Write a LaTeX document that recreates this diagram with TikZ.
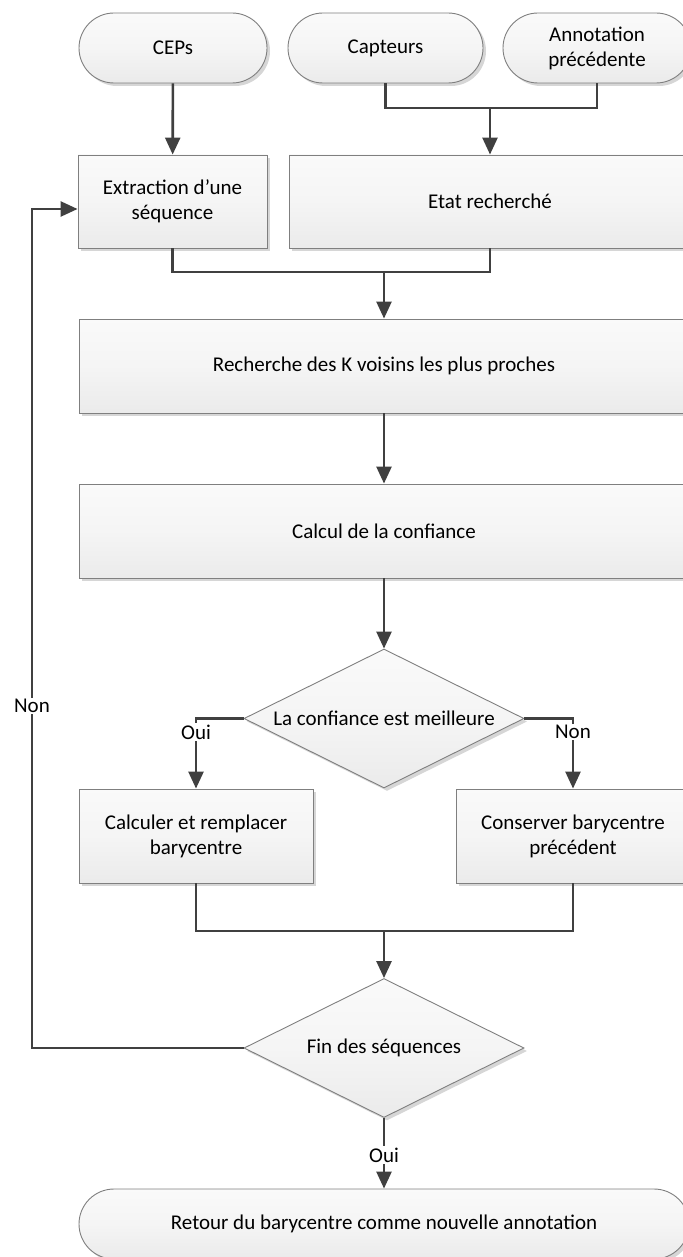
\documentclass[tikz,border=0pt]{standalone}
\usepackage{fontspec}
\setmainfont{Carlito}
\usetikzlibrary{shapes.geometric,arrows.meta,shadows}
\definecolor{edgegray}{HTML}{7F7F7F}
\definecolor{wiregray}{HTML}{404040}
\begin{document}
\begin{tikzpicture}[x=1pt,y=-1pt,
  font=\fontsize{21}{25}\selectfont,
  base/.style={draw=edgegray, line width=0.9pt,
    top color=black!2, bottom color=black!8, middle color=black!4,
    drop shadow={shadow xshift=3pt,shadow yshift=-3pt,fill=black!16,opacity=1},
    align=center, inner sep=0pt},
  proc/.style={base, rectangle, minimum height=93pt},
  term/.style={base, rectangle, rounded corners=35pt, minimum height=70pt},
  cond/.style={base, diamond, aspect=2, minimum width=280pt, minimum height=139pt},
  wire/.style={draw=wiregray, line width=2.6pt},
  arr/.style={wire, -{Triangle[length=17pt,width=15pt]}},
  lbl/.style={fill=white, inner sep=1.5pt}
]
\useasboundingbox (0,0) rectangle (682,1257);

% inputs
\node[term, minimum width=188pt] (ceps)  at (173,48)   {CEPs};
\node[term, minimum width=195pt] (capt)  at (385.5,48) {Capteurs};
\node[term, minimum width=188pt] (annot) at (597,48)   {Annotation\\précédente};

% preparation
\node[proc, minimum width=189pt] (extr) at (172.5,201.5) {Extraction d’une\\séquence};
\node[proc, minimum width=402pt] (etat) at (490,201.5)   {Etat recherché};

% main chain
\node[proc, minimum width=610pt, minimum height=94pt] (rech) at (384,366) {Recherche des K voisins les plus proches};
\node[proc, minimum width=610pt, minimum height=94pt] (calc) at (384,531) {Calcul de la confiance};
\node[cond] (c1) at (384,718.5) {La confiance est meilleure};

\node[proc, minimum width=234pt, minimum height=94pt] (calcr) at (196,836) {Calculer et remplacer\\barycentre};
\node[proc, minimum width=234pt, minimum height=94pt] (cons)  at (573,836) {Conserver barycentre\\précédent};

\node[cond] (c2) at (384,1048) {Fin des séquences};
\node[term, minimum width=610pt] (ret) at (384,1224) {Retour du barycentre comme nouvelle annotation};

% junction points
\coordinate (j1) at (490,108);
\coordinate (j2) at (384,272);
\coordinate (j3) at (384,931);
\coordinate (lp) at (32,209);

% connectors
\draw[arr] (ceps) -- (extr);
\draw[wire] (capt.south) |- (j1) -| (annot.south);
\draw[arr] (j1) -- (etat.north);
\draw[wire] (extr.south) |- (j2) -| (etat.south);
\draw[arr] (j2) -- (rech.north);
\draw[arr] (rech) -- (calc);
\draw[arr] (calc) -- (c1);
\draw[arr] (c1.west) -| (calcr.north);
\draw[arr] (c1.east) -| (cons.north);
\draw[wire] (calcr.south) |- (j3) -| (cons.south);
\draw[arr] (j3) -- (c2.north);
\draw[arr] (c2.west) -| (lp) -- (lp -| extr.west);
\draw[arr] (c2.south) -- (ret.north);

% branch labels
\node[lbl] (oui1) at (196,732)  {Oui};
\node[lbl] (non1) at (573,732)  {Non};
\node[lbl] (non2) at (32,706)   {Non};
\node[lbl] (oui2) at (384,1155) {Oui};
\end{tikzpicture}
\end{document}
